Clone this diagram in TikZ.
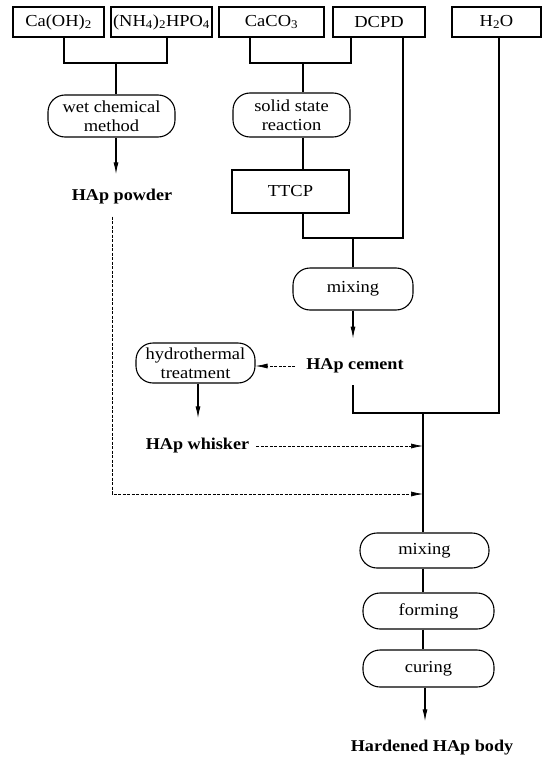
\documentclass[tikz,border=0pt]{standalone}
\usepackage{fontspec}
\setmainfont[FakeStretch=1.1]{Liberation Serif}
\usetikzlibrary{arrows.meta}
\begin{document}
\begin{tikzpicture}[x=1pt,y=-1pt,
  every node/.style={font=\fontsize{16.8}{19}\selectfont},
  box/.style={draw, line width=1.1pt, minimum height=30pt, inner sep=0pt},
  oval/.style={draw, line width=1.1pt, rounded corners=17pt, inner sep=0pt, align=center},
  lbl/.style={font=\fontsize{16.5}{19}\selectfont\bfseries, inner sep=1pt},
  ln/.style={line width=1.1pt},
  arr/.style={line width=1.1pt, -{Latex[length=12pt,width=5pt]}},
  darr/.style={line width=0.7pt, dash pattern=on 3pt off 1.5pt, -{Latex[length=12pt,width=5pt]}},
]
\useasboundingbox (0,0) rectangle (544,757);

% top boxes
\node[box, minimum width=91pt] (ca) at (58.5,22) {Ca(OH)\textsubscript{2}};
\node[box, minimum width=101pt] (nh) at (161.5,22) {(NH\textsubscript{4})\textsubscript{2}HPO\textsubscript{4}};
\node[box, minimum width=105pt] (caco) at (271.5,22) {CaCO\textsubscript{3}};
\node[box, minimum width=92pt] (dcpd) at (379,22) {DCPD};
\node[box, minimum width=89pt] (hto) at (496.5,22) {H\textsubscript{2}O};

% process nodes
\node[oval, minimum width=127pt, minimum height=42pt] (wet) at (111.5,116) {wet chemical\\method};
\node[oval, minimum width=117pt, minimum height=44pt] (solid) at (291.5,115) {solid state\\reaction};
\node[box, minimum width=117pt, minimum height=43pt] (ttcp) at (290.5,191.5) {TTCP};
\node[oval, minimum width=120pt, minimum height=42pt] (mixa) at (353,289) {mixing};
\node[lbl] (powder) at (122,197) {HAp powder};
\node[lbl] (cement) at (355,366) {HAp cement};
\node[oval, minimum width=119pt, minimum height=40pt] (hydro) at (195.5,363) {hydrothermal\\treatment};
\node[lbl] (whisker) at (197.5,446) {HAp whisker};
\node[oval, minimum width=129pt, minimum height=35pt] (mixb) at (424.5,550.5) {mixing};
\node[oval, minimum width=131pt, minimum height=36pt] (forming) at (428.5,611) {forming};
\node[oval, minimum width=131pt, minimum height=37pt] (curing) at (428.5,668.5) {curing};
\node[lbl] (hard) at (432,748) {Hardened HAp body};

% junctions
\coordinate (j1) at (116,63);
\coordinate (j2) at (303,63);
\coordinate (j3) at (353,238);
\coordinate (j4) at (423,413);
\coordinate (j5) at (499,413);
\coordinate (j6) at (112,494);

% connectors
\draw[ln] ([xshift=5.5pt]ca.south) |- (j1) -| ([xshift=5.5pt]nh.south);
\draw[ln] (j1) -- (j1 |- wet.north);
\draw[arr, shorten >=14pt] (wet.south -| j1) -- (j1 |- powder.north);

\draw[ln] ([xshift=-21.5pt]caco.south) |- (j2) -| ([xshift=-28pt]dcpd.south);
\draw[ln] (j2) -- (j2 |- solid.north);
\draw[ln] (solid.south -| j2) -- (j2 |- ttcp.north);
\draw[ln] (ttcp.south -| j2) |- (j3) -| ([xshift=24pt]dcpd.south);
\draw[ln] (j3) -- (j3 |- mixa.north);
\draw[arr, shorten >=19pt] (mixa.south -| j3) -- (j3 |- cement.north);

\draw[darr] ([xshift=-10pt]cement.west) -- (cement.west -| hydro.east);
\draw[arr, shorten >=19pt] ([xshift=2.5pt]hydro.south) -- ([xshift=2.5pt]hydro.south |- whisker.north);
\draw[darr] ([xshift=6pt]whisker.east) -- (whisker.east -| j4);

\draw[ln] ([xshift=-2pt,yshift=-11pt]cement.south) |- (j5) -- ([xshift=2.5pt]hto.south);
\draw[ln] (j4) -- (j4 |- mixb.north);
\draw[darr] ([xshift=-10pt,yshift=-11pt]powder.south) |- (j4 |- j6);

\draw[ln] (mixb.south -| j4) -- (j4 |- forming.north);
\draw[ln] (forming.south -| j4) -- (j4 |- curing.north);
\draw[arr, shorten >=18pt] ([xshift=-3.5pt]curing.south) -- ([xshift=-3.5pt]curing.south |- hard.north);
\end{tikzpicture}
\end{document}
